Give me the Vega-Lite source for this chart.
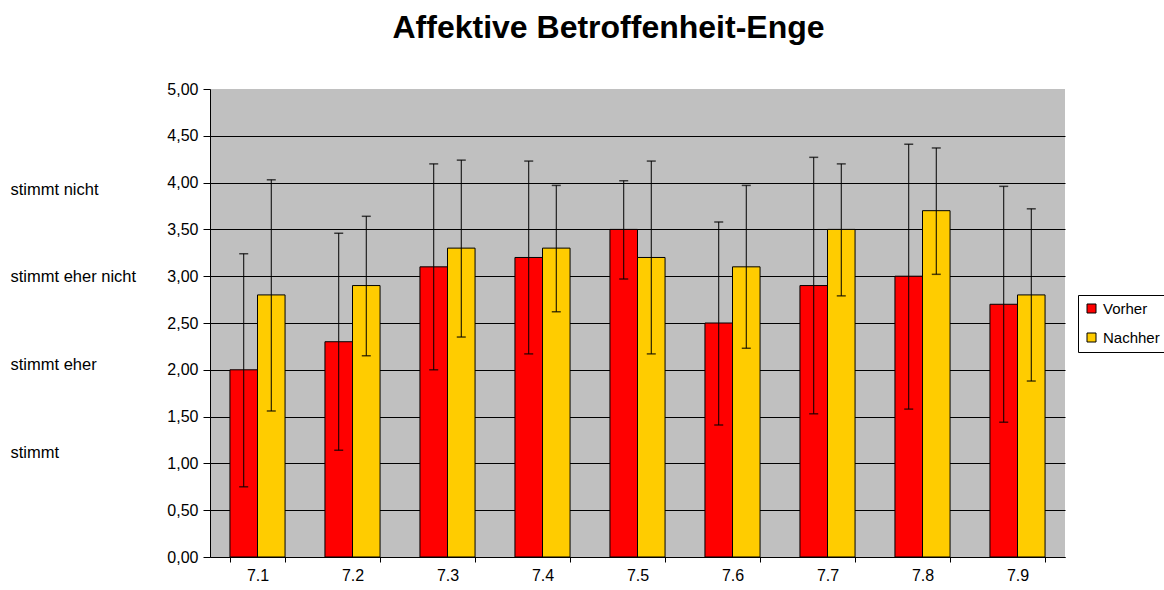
{
  "$schema": "https://vega.github.io/schema/vega-lite/v6.json",
  "width": 855,
  "height": 468,
  "padding": {"left": 10, "top": 12, "right": 5, "bottom": 5},
  "background": "white",
  "title": {"text": "Affektive Betroffenheit-Enge", "font": "Liberation Sans", "fontSize": 32, "fontWeight": "bold", "color": "#000000", "anchor": "middle", "dx": -29, "offset": 36},
  "config": {"view": {"stroke": null, "fill": "#C0C0C0"}},
  "data": {"values": [
    {"cat": "7.1", "group": "Vorher", "value": 2.0, "lo": 0.75, "hi": 3.24},
    {"cat": "7.1", "group": "Nachher", "value": 2.8, "lo": 1.56, "hi": 4.03},
    {"cat": "7.2", "group": "Vorher", "value": 2.3, "lo": 1.14, "hi": 3.46},
    {"cat": "7.2", "group": "Nachher", "value": 2.9, "lo": 2.15, "hi": 3.64},
    {"cat": "7.3", "group": "Vorher", "value": 3.1, "lo": 2.0, "hi": 4.2},
    {"cat": "7.3", "group": "Nachher", "value": 3.3, "lo": 2.35, "hi": 4.24},
    {"cat": "7.4", "group": "Vorher", "value": 3.2, "lo": 2.17, "hi": 4.23},
    {"cat": "7.4", "group": "Nachher", "value": 3.3, "lo": 2.62, "hi": 3.97},
    {"cat": "7.5", "group": "Vorher", "value": 3.5, "lo": 2.97, "hi": 4.02},
    {"cat": "7.5", "group": "Nachher", "value": 3.2, "lo": 2.17, "hi": 4.23},
    {"cat": "7.6", "group": "Vorher", "value": 2.5, "lo": 1.41, "hi": 3.58},
    {"cat": "7.6", "group": "Nachher", "value": 3.1, "lo": 2.23, "hi": 3.97},
    {"cat": "7.7", "group": "Vorher", "value": 2.9, "lo": 1.53, "hi": 4.27},
    {"cat": "7.7", "group": "Nachher", "value": 3.5, "lo": 2.79, "hi": 4.2},
    {"cat": "7.8", "group": "Vorher", "value": 3.0, "lo": 1.58, "hi": 4.41},
    {"cat": "7.8", "group": "Nachher", "value": 3.7, "lo": 3.02, "hi": 4.37},
    {"cat": "7.9", "group": "Vorher", "value": 2.7, "lo": 1.44, "hi": 3.96},
    {"cat": "7.9", "group": "Nachher", "value": 2.8, "lo": 1.88, "hi": 3.72}
  ]},
  "encoding": {
    "x": {"field": "cat", "type": "nominal", "sort": null,
      "scale": {"paddingInner": 0.42, "paddingOuter": 0.21},
      "axis": {"title": null, "labelAngle": 0, "labelFont": "Liberation Sans", "labelFontSize": 16, "labelColor": "#000000", "tickBand": "extent", "tickSize": 5, "tickColor": "#000000", "domainColor": "#000000", "labelPadding": 5}},
    "xOffset": {"field": "group", "type": "nominal", "sort": ["Vorher", "Nachher"], "scale": {"paddingInner": 0, "paddingOuter": 0}}
  },
  "resolve": {"axis": {"y": "independent"}},
  "layer": [
    {
      "mark": {"type": "bar", "stroke": "#000000", "strokeWidth": 1},
      "encoding": {
        "y": {"field": "value", "type": "quantitative", "scale": {"domain": [0, 5], "nice": false},
          "axis": {"title": null, "values": [0, 0.5, 1, 1.5, 2, 2.5, 3, 3.5, 4, 4.5, 5],
            "labelExpr": "replace(format(datum.value, '.2f'), '.', ',')",
            "labelFont": "Liberation Sans", "labelFontSize": 16, "labelColor": "#000000",
            "tickSize": 7, "tickColor": "#000000", "domainColor": "#000000", "labelPadding": 5,
            "grid": true, "gridColor": "#000000", "gridWidth": 1,
            "gridOpacity": {"condition": {"test": "datum.value >= 5", "value": 0}, "value": 1}}},
        "color": {"field": "group", "type": "nominal", "sort": ["Vorher", "Nachher"],
          "scale": {"domain": ["Vorher", "Nachher"], "range": ["#FF0000", "#FFCC00"]},
          "legend": {"title": null, "orient": "none", "legendX": 868, "legendY": 206,
            "fillColor": "#FFFFFF", "strokeColor": "#000000", "padding": 6,
            "symbolType": "square", "symbolSize": 81, "symbolStrokeColor": "#000000", "symbolStrokeWidth": 1,
            "labelFont": "Liberation Sans", "labelFontSize": 15, "labelColor": "#000000", "rowPadding": 13, "labelOffset": 4}}
      }
    },
    {
      "mark": {"type": "rule", "color": "#000000", "strokeWidth": 1},
      "encoding": {
        "y": {"field": "lo", "type": "quantitative", "scale": {"domain": [0, 5], "nice": false},
          "axis": {"orient": "left", "title": null, "values": [3.93, 3.0, 2.06, 1.12],
            "labelExpr": "datum.value == 3.93 ? 'stimmt nicht' : datum.value == 3 ? 'stimmt eher nicht' : datum.value == 2.06 ? 'stimmt eher' : 'stimmt'",
            "labelAlign": "left", "offset": 200, "ticks": false, "domain": false, "grid": false,
            "labelPadding": 0, "labelOverlap": false, "labelFlush": false,
            "labelFont": "Liberation Sans", "labelFontSize": 16.5, "labelColor": "#000000"}},
        "y2": {"field": "hi"}
      }
    },
    {
      "mark": {"type": "tick", "color": "#000000", "size": 9, "thickness": 1.5},
      "encoding": {
        "y": {"field": "lo", "type": "quantitative", "scale": {"domain": [0, 5], "nice": false}, "axis": null}
      }
    },
    {
      "mark": {"type": "tick", "color": "#000000", "size": 9, "thickness": 1.5},
      "encoding": {
        "y": {"field": "hi", "type": "quantitative", "scale": {"domain": [0, 5], "nice": false}, "axis": null}
      }
    }
  ]
}
